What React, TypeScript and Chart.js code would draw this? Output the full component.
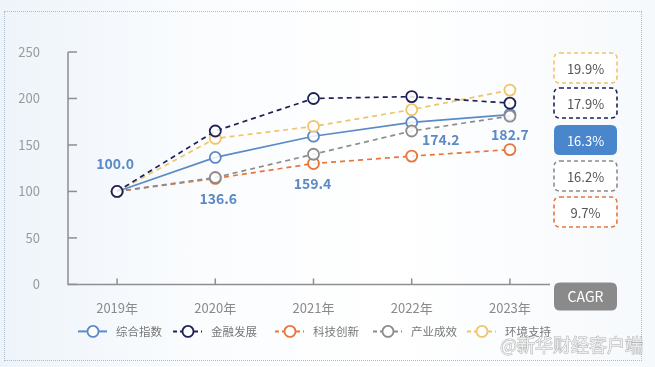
import React, { useEffect, useRef } from "react";
import { Chart, registerables } from "chart.js";

Chart.register(...registerables);

const years = ["2019年", "2020年", "2021年", "2022年", "2023年"];
const seriesNames = ["综合指数", "金融发展", "科技创新", "产业成效", "环境支持"];
const composite = [100.0, 136.6, 159.4, 174.2, 182.7];
const finance = [100, 165, 200, 202, 195];
const tech = [100, 114, 130, 138, 145];
const industry = [100, 115, 140, 165, 181];
const environment = [100, 157, 170, 188, 209];
const cagrLabels = ["19.9%", "17.9%", "16.3%", "16.2%", "9.7%"];
const yTicks = [0, 50, 100, 150, 200, 250];

const colors = ["#5b8ac6", "#1e2157", "#e8753c", "#8c8c8c", "#f0c46a"];
const dashed = [false, true, true, true, true];
// CAGR box order (top->bottom) maps to series index
const cagrOrder = [4, 1, 0, 3, 2];
// label offsets for composite data labels (dx, dy) in px
const labelOffsets = [
  [-2, -28],
  [3, 41],
  [-1, 47],
  [29, 17],
  [0, 20],
];
const legendStarts = [78, 173, 275, 373, 467];

function roundRect(ctx: CanvasRenderingContext2D, x: number, y: number, w: number, h: number, r: number) {
  ctx.beginPath();
  ctx.moveTo(x + r, y);
  ctx.lineTo(x + w - r, y);
  ctx.quadraticCurveTo(x + w, y, x + w, y + r);
  ctx.lineTo(x + w, y + h - r);
  ctx.quadraticCurveTo(x + w, y + h, x + w - r, y + h);
  ctx.lineTo(x + r, y + h);
  ctx.quadraticCurveTo(x, y + h, x, y + h - r);
  ctx.lineTo(x, y + r);
  ctx.quadraticCurveTo(x, y, x + r, y);
  ctx.closePath();
}

const FONT = "'Noto Sans CJK SC', 'Noto Sans', sans-serif";

const decorPlugin = {
  id: "decor",
  afterDraw(chart: any) {
    const ctx: CanvasRenderingContext2D = chart.ctx;
    const area = chart.chartArea;
    const xs = chart.scales.x;
    const ys = chart.scales.y;
    ctx.save();
    // axes
    ctx.strokeStyle = "#8f8f8f";
    ctx.lineWidth = 1.5;
    ctx.setLineDash([]);
    const axisRight = area.right - 9;
    ctx.beginPath();
    ctx.moveTo(area.left, area.top);
    ctx.lineTo(area.left, area.bottom);
    ctx.lineTo(axisRight, area.bottom);
    ctx.stroke();
    // y ticks inside
    yTicks.forEach((v) => {
      const y = ys.getPixelForValue(v);
      ctx.beginPath();
      ctx.moveTo(area.left, y);
      ctx.lineTo(area.left + 9, y);
      ctx.stroke();
    });
    // x ticks inside
    years.forEach((_, i) => {
      const x = xs.getPixelForValue(i);
      ctx.beginPath();
      ctx.moveTo(x, area.bottom);
      ctx.lineTo(x, area.bottom - 6);
      ctx.stroke();
    });

    // composite data labels
    ctx.font = `bold 14px ${FONT}`;
    ctx.fillStyle = "#5b8ac6";
    ctx.textAlign = "center";
    ctx.textBaseline = "middle";
    composite.forEach((v, i) => {
      const x = xs.getPixelForValue(i) + labelOffsets[i][0];
      const y = ys.getPixelForValue(v) + labelOffsets[i][1];
      ctx.fillText(v.toFixed(1), x, y);
    });

    // CAGR boxes
    const bx = axisRight + 4;
    const bw = 63;
    const bh = 30;
    const tops = [53, 88, 125, 161, 197].map((t) => area.top + (t - 52));
    cagrOrder.forEach((si, k) => {
      const y = tops[k];
      const c = colors[si];
      roundRect(ctx, bx, y, bw, bh, 6);
      if (si === 0) {
        ctx.fillStyle = "#4a86cc";
        ctx.fill();
      } else {
        ctx.fillStyle = "#ffffff";
        ctx.fill();
        ctx.strokeStyle = c;
        ctx.lineWidth = 1.6;
        ctx.setLineDash([4, 3]);
        ctx.stroke();
        ctx.setLineDash([]);
      }
      ctx.font = `13px ${FONT}`;
      ctx.fillStyle = si === 0 ? "#ffffff" : "#555555";
      ctx.textAlign = "center";
      ctx.textBaseline = "middle";
      ctx.fillText(cagrLabels[k], bx + bw / 2, y + bh / 2 + 1);
    });
    // CAGR label box
    roundRect(ctx, bx, area.bottom - 2, bw, 28, 6);
    ctx.fillStyle = "#8a8a8a";
    ctx.fill();
    ctx.font = `14px ${FONT}`;
    ctx.fillStyle = "#ffffff";
    ctx.fillText("CAGR", bx + bw / 2, area.bottom - 2 + 14);

    // legend
    const ly = area.bottom + 47;
    seriesNames.forEach((name, i) => {
      const lx = legendStarts[i];
      ctx.strokeStyle = colors[i];
      ctx.lineWidth = 2;
      if (dashed[i]) ctx.setLineDash([4, 3]);
      else ctx.setLineDash([]);
      ctx.beginPath();
      ctx.moveTo(lx, ly);
      ctx.lineTo(lx + 29, ly);
      ctx.stroke();
      ctx.setLineDash([]);
      ctx.beginPath();
      ctx.arc(lx + 15, ly, 5.5, 0, Math.PI * 2);
      ctx.fillStyle = "#ffffff";
      ctx.fill();
      ctx.lineWidth = 1.8;
      ctx.stroke();
      ctx.font = `11.5px ${FONT}`;
      ctx.fillStyle = "#777777";
      ctx.textAlign = "left";
      ctx.textBaseline = "middle";
      ctx.fillText(name, lx + 38, ly);
    });

    // watermark
    ctx.font = `18px ${FONT}`;
    ctx.textAlign = "left";
    ctx.fillStyle = "rgba(255,255,255,0.7)";
    ctx.strokeStyle = "rgba(120,120,120,0.55)";
    ctx.lineWidth = 1;
    ctx.strokeText("@新华财经客户端", 500, ly + 14);
    ctx.fillText("@新华财经客户端", 500, ly + 14);
    ctx.restore();
  },
};

export default function App() {
  const ref = useRef<HTMLCanvasElement>(null);
  useEffect(() => {
    if (!ref.current) return;
    const all = [composite, finance, tech, industry, environment];
    const chart = new Chart(ref.current, {
      type: "line",
      data: {
        labels: years,
        datasets: all.map((d, i) => ({
          label: seriesNames[i],
          data: d,
          borderColor: colors[i],
          backgroundColor: "#ffffff",
          borderWidth: 1.7,
          borderDash: dashed[i] ? [5, 4] : [],
          pointRadius: 5.5,
          pointBorderWidth: 1.8,
          pointBackgroundColor: "rgba(255,255,255,0.85)",
          pointBorderColor: colors[i],
          tension: 0,
          order: [3, 0, 4, 2, 1][i],
        })),
      },
      options: {
        animation: false,
        responsive: false,
        maintainAspectRatio: false,
        layout: { padding: { left: 0, right: 96, top: 52, bottom: 43 } },
        plugins: { legend: { display: false }, tooltip: { enabled: false } },
        scales: {
          x: {
            offset: true,
            grid: { display: false },
            border: { display: false },
            ticks: { color: "#8a8a8a", font: { size: 13, family: FONT }, padding: 8 },
          },
          y: {
            min: 0,
            max: 250,
            grid: { display: false },
            border: { display: false },
            afterFit: (s: any) => {
              s.width = 68;
            },
            afterBuildTicks: (s: any) => {
              s.ticks = yTicks.map((v) => ({ value: v }));
            },
            ticks: { color: "#9a9a9a", font: { size: 13, family: FONT }, padding: 20 },
          },
        },
      },
      plugins: [decorPlugin],
    });
    return () => chart.destroy();
  }, []);
  return (
    <div
      style={{
        position: "fixed",
        left: 0,
        top: 0,
        width: 655,
        height: 367,
        background: "linear-gradient(90deg, #eef4fa 0%, #fafcfe 30%, #ffffff 60%, #f6f9fc 100%)",
      }}
    >
      <div
        style={{
          position: "absolute",
          left: 4,
          top: 11,
          width: 638,
          height: 350,
          border: "1.5px dotted #a9bccb",
          boxSizing: "border-box",
        }}
      />
      <canvas ref={ref} width={655} height={367} style={{ position: "absolute", left: 0, top: 0 }} />
    </div>
  );
}
